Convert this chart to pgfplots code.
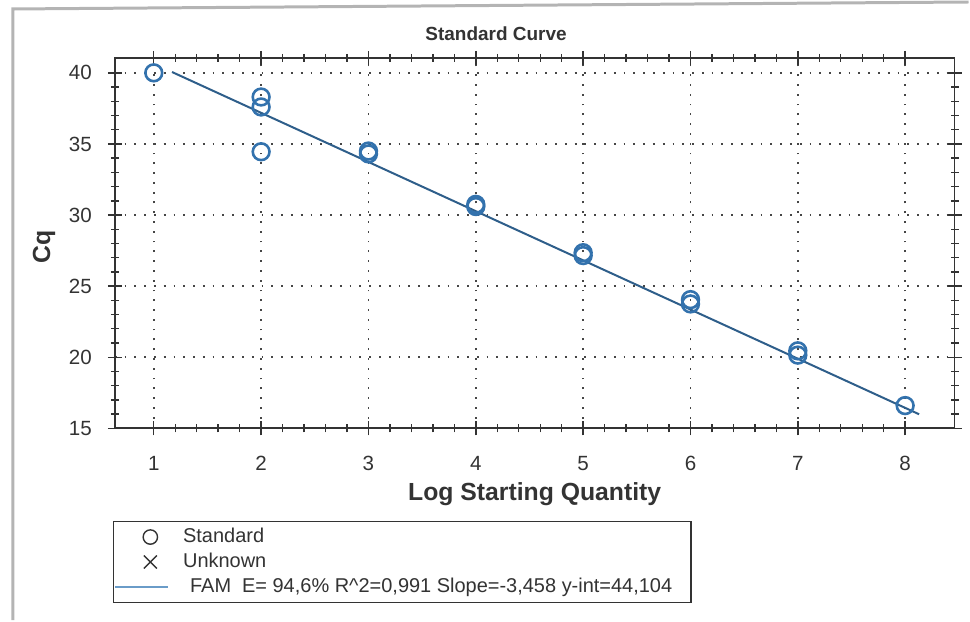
\documentclass[border=0pt]{standalone}
\usepackage{pgfplots}
\pgfplotsset{compat=1.18}
\usepackage{fontspec}
\setmainfont{Liberation Sans}

\definecolor{stdblue}{HTML}{3372AD}
\definecolor{fitblue}{HTML}{2E5E8A}
\definecolor{famblue}{HTML}{6A9CC8}
\definecolor{axisgray}{HTML}{333333}
\definecolor{framegray}{HTML}{B4B4B4}

\pgfplotsset{
  markleg/.style={legend image code/.code={\path (0pt,0pt) (26.5pt,0pt);
    \draw[##1] plot[only marks] coordinates {(17.5pt,0pt)};}},
  lineleg/.style={legend image code/.code={\draw[##1] (0pt,0pt) -- (26.5pt,0pt);}},
}

\begin{document}
\begin{tikzpicture}
% page extent and the surrounding frame
\path (0pt,0pt) rectangle (485pt,310.5pt);
\draw[framegray, line width=1.5pt] (6.5pt,0pt) -- (6.5pt,306pt) -- (485pt,309.5pt);

\begin{axis}[
  at={(57.5pt,96pt)}, anchor=south west,
  scale only axis, width=420.5pt, height=185.5pt,
  xmin=0.637, xmax=8.46, ymin=15, ymax=41.05,
  xtick={1,2,...,8}, ytick={15,20,...,40},
  minor x tick num=4, minor y tick num=4,
  tick align=center, major tick length=7pt, minor tick length=4pt,
  every tick/.style={axisgray, line width=0.7pt},
  axis line style={axisgray, line width=0.9pt},
  grid=major,
  major grid style={dash pattern=on 0.9pt off 4pt, gray!55!black, line width=0.9pt},
  /pgf/number format/assume math mode=true,
  tick label style={font=\fontsize{10.3}{12}\selectfont, text=axisgray},
  yticklabel style={xshift=-4.5pt},
  xticklabel style={yshift=-7pt},
  title={Standard Curve},
  title style={at={(axis description cs:0.454,1.0135)}, anchor=base, yshift=0pt,
    font=\fontsize{9.5}{11}\selectfont\bfseries, text=axisgray},
  xlabel={Log Starting Quantity},
  xlabel style={at={(axis description cs:0.5,-0.194)}, anchor=base,
    font=\fontsize{12.4}{14}\selectfont\bfseries, text=axisgray},
  ylabel={Cq},
  ylabel style={at={(axis description cs:-0.0844,0.49)}, anchor=center,
    font=\fontsize{12.4}{14}\selectfont\bfseries, text=axisgray},
  legend cell align=left,
  legend style={at={(axis description cs:-0.0024,-0.2495)}, anchor=north west,
    draw=axisgray, line width=0.8pt, text=axisgray,
    font=\fontsize{10}{12}\selectfont,
    inner xsep=0.5pt, inner ysep=2pt, row sep=1pt, column sep=6pt,
    nodes={inner sep=1pt, text height=7.5pt, text depth=2pt}},
]

% fitted standard curve: Cq = -3.458 * log(q) + 44.104
\addplot[fitblue, line width=1pt, forget plot]
  coordinates {(1.17,40.058) (8.13,15.990)};

% standards
\addplot[only marks, mark=o, mark size=4.2pt, stdblue, line width=1.3pt, forget plot]
  coordinates {
    (1,40.0)
    (2,38.3) (2,37.6) (2,34.45)
    (3,34.5) (3,34.3)
    (4,30.75) (4,30.6)
    (5,27.35) (5,27.15)
    (6,24.05) (6,23.75)
    (7,20.45) (7,20.15)
    (8,16.6)
  };

\addlegendimage{gray!40!black, line width=0.7pt, mark=o, mark size=3.6pt, markleg}
\addlegendentry{Standard}
\addlegendimage{gray!40!black, line width=0.7pt, mark=x, mark size=4.6pt, markleg}
\addlegendentry{Unknown}
\addlegendimage{famblue, line width=0.8pt, lineleg}
\addlegendentry{\hspace*{3.5pt}FAM\hspace{5.5pt}E= 94,6\% R\textasciicircum 2=0,991 Slope=-3,458 y-int=44,104\hspace*{8pt}\mbox{}}
\end{axis}
\end{tikzpicture}
\end{document}
